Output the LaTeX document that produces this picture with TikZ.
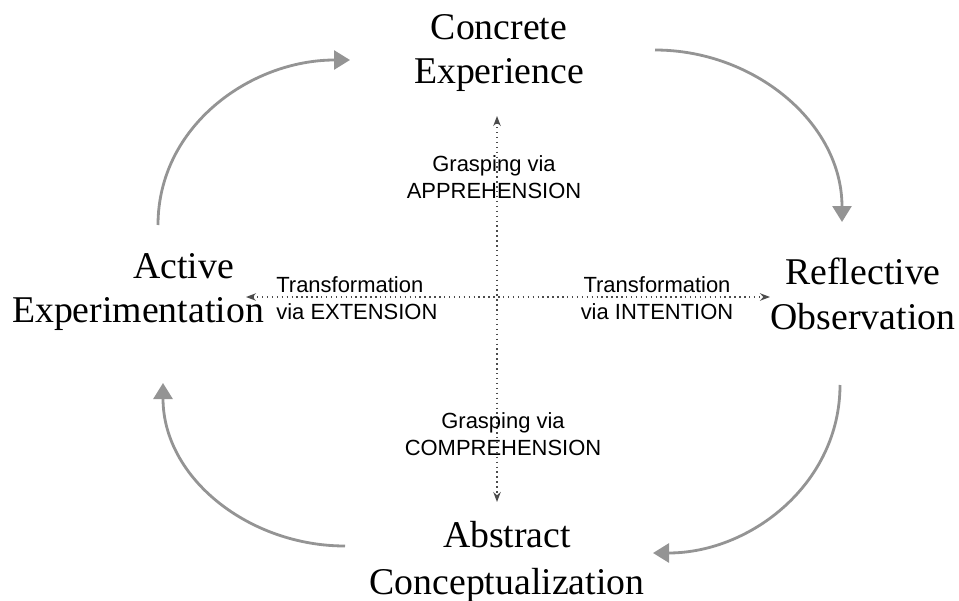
\documentclass[tikz,border=0pt]{standalone}
\usepackage{fontspec}
\setmainfont{Liberation Serif}
\setsansfont{Liberation Sans}
\usetikzlibrary{arrows.meta,positioning,calc}

\begin{document}
\begin{tikzpicture}[
    x=0.02cm, y=-0.02cm,
    stage/.style={font=\fontsize{21.5}{25.2}\selectfont, align=center, inner sep=0pt},
    mode/.style={font=\sffamily\fontsize{12.5}{15.2}\selectfont, align=center, inner sep=0pt},
    cycle/.style={-{Triangle[width=0.38cm,length=0.32cm]}, line width=1.6pt, draw=black!42},
    axis/.style={{Stealth[length=0.2cm,width=0.15cm]}-{Stealth[length=0.2cm,width=0.15cm]}, dotted, thick, draw=black!70}
]
\useasboundingbox (0,0) rectangle (959,601);

% Four stages
\node[stage] (ce) at (499, 53) {Concrete\\Experience};
\node[stage, align=right] (ae) at (138, 292) {Active\hspace*{0.6cm}\\Experimentation};
\node[stage] (ro) at (863, 294) {Reflective\\Observation};
\node[stage, font=\fontsize{21.5}{27}\selectfont] (ac) at (507, 562) {Abstract\\Conceptualization};

% Axes
\coordinate (vtop) at (497, 116);
\coordinate (vbot) at (497, 502);
\coordinate (hleft) at (246, 297);
\coordinate (hright) at (770, 297);
\draw[axis] (vtop) -- (vbot);
\draw[axis] (hleft) -- (hright);

\node[mode] (gapp) at (494, 177) {Grasping via\\APPREHENSION};
\node[mode, align=left, anchor=west] (tex) at (276, 298) {Transformation\\via EXTENSION};
\node[mode] (tin) at (657, 298) {Transformation\\via INTENTION};
\node[mode] (gcomp) at (503, 434) {Grasping via\\COMPREHENSION};

% Cycle
\coordinate (c1a) at (158, 225);
\coordinate (c1b) at (350, 60);
\coordinate (c2a) at (655, 50);
\coordinate (c2b) at (842, 222);
\coordinate (c3a) at (840, 385);
\coordinate (c3b) at (653, 553);
\coordinate (c4a) at (345, 546);
\coordinate (c4b) at (163, 383);
\draw[cycle] (c1a) to[out=90, in=180] (c1b);
\draw[cycle] (c2a) to[out=0, in=90] (c2b);
\draw[cycle] (c3a) to[out=-90, in=0] (c3b);
\draw[cycle] (c4a) to[out=180, in=-90] (c4b);

\end{tikzpicture}
\end{document}
